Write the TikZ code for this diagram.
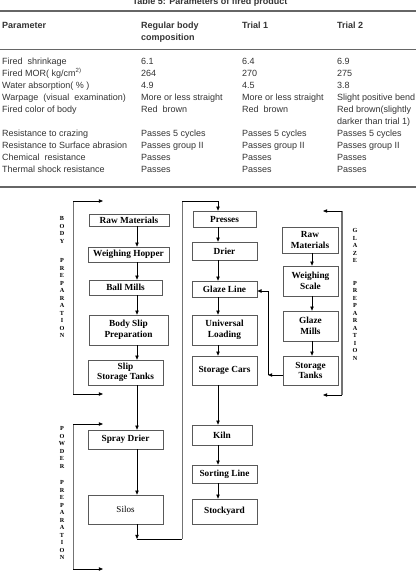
\documentclass[tikz,border=0pt]{standalone}
\usepackage{fontspec}
\setmainfont{Liberation Serif}
\setsansfont{Liberation Sans}
\usetikzlibrary{arrows.meta}

\begin{document}
\begin{tikzpicture}[x=1pt,y=-1pt,
  tab/.style={anchor=base west,inner sep=0pt,font=\sffamily\fontsize{9}{11}\selectfont,text=black!80},
  tabh/.style={tab,font=\sffamily\bfseries\fontsize{9}{11}\selectfont},
  rule/.style={draw=black!60},
  box/.style={draw=black!65,line width=0.6pt,inner sep=0pt,align=center,
    font=\bfseries\fontsize{9.3}{10.5}\selectfont},
  arr/.style={draw=black,line width=0.7pt,-{Triangle[length=4.2pt,width=3.4pt]}},
  link/.style={draw=black,line width=0.7pt},
  rail/.style={draw=black!55,line width=0.8pt},
  vlab/.style={inner sep=0pt,anchor=north,align=center,
    font=\bfseries\fontsize{6.2}{7.5}\selectfont}
]
\useasboundingbox (0,0) rectangle (416,588);

% ---------------- table of fired product parameters ----------------
\node[anchor=base,inner sep=0pt,font=\sffamily\bfseries\fontsize{9}{11}\selectfont,text=black!80]
  (title) at (210,4.5) {Table 5: Parameters of fired product};
\draw[rule,line width=1.4pt] (0,11) -- (416,11);
\draw[rule,line width=0.9pt] (0,49) -- (416,49);
\draw[rule,line width=1.4pt] (0,187) -- (416,187);

\node[tabh] (h1) at (2,28.3) {Parameter};
\node[tabh] (h2) at (141,28.3) {Regular body};
\node[tabh] (h2b) at (141,40.3) {composition};
\node[tabh] (h3) at (242,28.3) {Trial 1};
\node[tabh] (h4) at (337,28.3) {Trial 2};

\node[tab] (r1a) at (2,64.3) {Fired\ \ shrinkage};
\node[tab] (r1b) at (141,64.3) {6.1};
\node[tab] (r1c) at (242,64.3) {6.4};
\node[tab] (r1d) at (337,64.3) {6.9};

\node[tab] (r2a) at (2,76.3) {Fired MOR( kg/cm\textsuperscript{2)}};
\node[tab] (r2b) at (141,76.3) {264};
\node[tab] (r2c) at (242,76.3) {270};
\node[tab] (r2d) at (337,76.3) {275};

\node[tab] (r3a) at (2,88.3) {Water absorption( \% )};
\node[tab] (r3b) at (141,88.3) {4.9};
\node[tab] (r3c) at (242,88.3) {4.5};
\node[tab] (r3d) at (337,88.3) {3.8};

\node[tab] (r4a) at (2,100.3) {Warpage\ \ (visual\ \ examination)};
\node[tab] (r4b) at (141,100.3) {More or less straight};
\node[tab] (r4c) at (242,100.3) {More or less straight};
\node[tab] (r4d) at (337,100.3) {Slight positive bend};

\node[tab] (r5a) at (2,112.3) {Fired color of body};
\node[tab] (r5b) at (141,112.3) {Red\ \ brown};
\node[tab] (r5c) at (242,112.3) {Red\ \ brown};
\node[tab] (r5d) at (337,112.3) {Red brown(slightly};
\node[tab] (r5e) at (337,124.8) {darker than trial 1)};

\node[tab] (r6a) at (2,136.3) {Resistance to crazing};
\node[tab] (r6b) at (141,136.3) {Passes 5 cycles};
\node[tab] (r6c) at (242,136.3) {Passes 5 cycles};
\node[tab] (r6d) at (337,136.3) {Passes 5 cycles};

\node[tab] (r7a) at (2,148.3) {Resistance to Surface abrasion};
\node[tab] (r7b) at (141,148.3) {Passes group II};
\node[tab] (r7c) at (242,148.3) {Passes group II};
\node[tab] (r7d) at (337,148.3) {Passes group II};

\node[tab] (r8a) at (2,160.3) {Chemical\ \ resistance};
\node[tab] (r8b) at (141,160.3) {Passes};
\node[tab] (r8c) at (242,160.3) {Passes};
\node[tab] (r8d) at (337,160.3) {Passes};

\node[tab] (r9a) at (2,172.3) {Thermal shock resistance};
\node[tab] (r9b) at (141,172.3) {Passes};
\node[tab] (r9c) at (242,172.3) {Passes};
\node[tab] (r9d) at (337,172.3) {Passes};

% ---------------- process flow sheet ----------------
% column guides for the vertical arrows
\coordinate (colA) at (137,0);
\coordinate (colB) at (218,0);
\coordinate (colC) at (312,0);

% body preparation
\node[box,minimum width=80pt,minimum height=12pt] (rawb) at (129,220) {Raw Materials};
\node[box,minimum width=81pt,minimum height=15pt] (hopper) at (128.5,254.5) {Weighing Hopper};
\node[box,minimum width=73pt,minimum height=15pt] (ball) at (125.5,287.5) {Ball Mills};
\node[box,minimum width=79pt,minimum height=30pt] (bslip) at (128.5,330) {Body Slip\\Preparation};
\node[box,minimum width=75pt,minimum height=25pt] (slip) at (125.5,372.5) {Slip\\Storage Tanks};
% powder preparation
\node[box,minimum width=75pt,minimum height=19pt] (spray) at (125.5,439.5) {Spray Drier};
\node[box,minimum width=75pt,minimum height=29pt,font=\fontsize{9}{10}\selectfont] (silos) at (125.5,509.5) {Silos};

% main production line
\node[box,minimum width=63pt,minimum height=16pt] (presses) at (224.5,219) {Presses};
\node[box,minimum width=65pt,minimum height=18pt] (drier) at (224.5,251) {Drier};
\node[box,minimum width=65pt,minimum height=16pt] (gline) at (224.5,289) {Glaze Line};
\node[box,minimum width=65pt,minimum height=30pt] (uload) at (224.5,330) {Universal\\Loading};
\node[box,minimum width=65pt,minimum height=29pt] (scars) at (224.5,370.5) {Storage Cars};
\node[box,minimum width=60pt,minimum height=20pt] (kiln) at (222,435) {Kiln};
\node[box,minimum width=65pt,minimum height=18pt] (sort) at (224.5,474) {Sorting Line};
\node[box,minimum width=65pt,minimum height=25pt] (stock) at (224.5,511.5) {Stockyard};

% glaze preparation
\node[box,minimum width=56pt,minimum height=26pt] (rawg) at (310,240) {Raw\\Materials};
\node[box,minimum width=55pt,minimum height=30pt] (wscale) at (310.5,281) {Weighing\\Scale};
\node[box,minimum width=55pt,minimum height=30pt] (gmills) at (310.5,326) {Glaze\\Mills};
\node[box,minimum width=55pt,minimum height=29pt] (stanks) at (310.5,370.5) {Storage\\Tanks};

% body flow
\draw[arr] (rawb.south -| colA) -- (hopper.north -| colA);
\draw[arr] (hopper.south -| colA) -- (ball.north -| colA);
\draw[arr] (ball.south -| colA) -- (bslip.north -| colA);
\draw[arr] (bslip.south -| colA) -- (slip.north -| colA);
\draw[arr] (slip.south -| colA) -- (spray.north -| colA);
\draw[arr] (spray.south -| colA) -- (silos.north -| colA);

% silos to presses
\coordinate (s1) at (137,539);
\coordinate (s2) at (182,539);
\coordinate (s3) at (182,201);
\draw[arr] (silos.south -| colA) -- (s1);
\draw[link] (s1) -- (s2);
\draw[rail] (s2) -- (s3);
\draw[arr] (s3) -| (presses.north -| colB);

% production flow
\draw[arr] (presses.south -| colB) -- (drier.north -| colB);
\draw[arr] (drier.south -| colB) -- (gline.north -| colB);
\draw[arr] (gline.south -| colB) -- (uload.north -| colB);
\draw[arr] (uload.south -| colB) -- (scars.north -| colB);
\draw[arr] (scars.south -| colB) -- (kiln.north -| colB);
\draw[arr] (kiln.south -| colB) -- (sort.north -| colB);
\draw[arr] (sort.south -| colB) -- (stock.north -| colB);

% glaze flow
\draw[arr] (rawg.south -| colC) -- (wscale.north -| colC);
\draw[arr] (wscale.south -| colC) -- (gmills.north -| colC);
\draw[arr] (gmills.south -| colC) -- (stanks.north -| colC);
\coordinate (g1) at (268,375);
\coordinate (g2) at (268,291);
\draw[arr] (stanks.west |- g1) -- (g1);
\draw[link] (g1) -- (g2);
\draw[arr] (g2) -- (gline.east |- g2);

% section brackets
\coordinate (b1) at (73,201);
\coordinate (b2) at (73,394);
\coordinate (b1e) at (103,201);
\coordinate (b2e) at (103,394);
\draw[rail] (b1) -- (b2);
\draw[arr] (b1) -- (b1e);
\draw[arr] (b2) -- (b2e);

\coordinate (p1) at (73,424);
\coordinate (p2) at (73,569);
\coordinate (p1e) at (103,424);
\coordinate (p2e) at (103,569);
\draw[rail] (p1) -- (p2);
\draw[arr] (p1) -- (p1e);
\draw[arr] (p2) -- (p2e);

\coordinate (q1) at (342,211);
\coordinate (q2) at (342,395);
\coordinate (q1e) at (323,211);
\coordinate (q2e) at (323,395);
\draw[rail,line width=1.8pt] (q1) -- (q2);
\draw[arr] (q1) -- (q1e);
\draw[arr] (q2) -- (q2e);

% section titles
\node[vlab] (lbody) at (62,216.5) {B\\O\\D\\Y\\[12pt]P\\R\\E\\P\\A\\R\\A\\T\\I\\O\\N};
\node[vlab] (lpowder) at (62,426.5) {P\\O\\W\\D\\E\\R\\[9pt]P\\R\\E\\P\\A\\R\\A\\T\\I\\O\\N};
\node[vlab] (lglaze) at (355,228.5) {G\\L\\A\\Z\\E\\[15pt]P\\R\\E\\P\\A\\R\\A\\T\\I\\O\\N};
\end{tikzpicture}
\end{document}
